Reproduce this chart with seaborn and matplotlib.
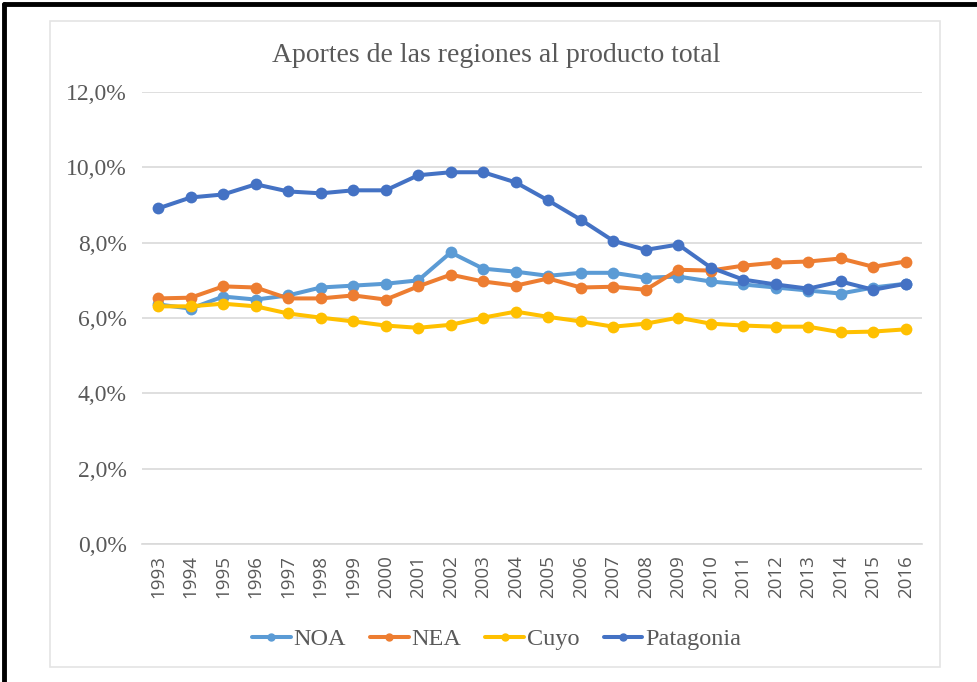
import numpy as np
import pandas as pd
import seaborn as sns
import matplotlib.pyplot as plt
from matplotlib.lines import Line2D
from matplotlib.patches import Rectangle
from matplotlib.ticker import FuncFormatter

years = [str(y) for y in range(1993, 2017)]
noa = [6.36, 6.25, 6.57, 6.49, 6.60, 6.81, 6.86, 6.91, 7.00, 7.74, 7.31, 7.23,
       7.12, 7.20, 7.20, 7.07, 7.10, 6.97, 6.89, 6.81, 6.73, 6.65, 6.81, 6.91]
nea = [6.52, 6.54, 6.84, 6.81, 6.52, 6.52, 6.60, 6.49, 6.84, 7.15, 6.97, 6.86,
       7.05, 6.81, 6.83, 6.75, 7.28, 7.26, 7.39, 7.47, 7.50, 7.58, 7.36, 7.50]
cuyo = [6.31, 6.31, 6.38, 6.31, 6.12, 6.01, 5.91, 5.80, 5.74, 5.82, 6.01, 6.17,
        6.03, 5.91, 5.77, 5.85, 6.01, 5.85, 5.80, 5.77, 5.77, 5.62, 5.64, 5.70]
patagonia = [8.91, 9.20, 9.28, 9.55, 9.36, 9.31, 9.39, 9.39, 9.79, 9.87, 9.87, 9.60,
             9.12, 8.61, 8.05, 7.81, 7.95, 7.34, 7.02, 6.89, 6.78, 6.97, 6.75, 6.91]

regiones = ["NOA", "NEA", "Cuyo", "Patagonia"]
colores = ["#5B9BD5", "#ED7D31", "#FFC000", "#4472C4"]

df = pd.DataFrame({"anio": years * 4,
                   "valor": noa + nea + cuyo + patagonia,
                   "region": sum([[r] * len(years) for r in regiones], [])})

sns.set_style("white")
serif = ["Liberation Serif", "DejaVu Serif"]
fig = plt.figure(figsize=(9.77, 6.82), dpi=100)
ax = fig.add_axes([0.1453, 0.2023, 0.7984, 0.6628])

sns.lineplot(data=df, x="anio", y="valor", hue="region", hue_order=regiones,
             palette=colores, marker="o", markersize=8.5, markeredgewidth=0,
             linewidth=2.9, sort=False, legend=False, ax=ax)

ax.set_xlim(-0.5, len(years) - 0.5)
ax.set_ylim(0, 12)
ax.set_yticks(np.arange(0, 12.1, 2))
ax.yaxis.set_major_formatter(FuncFormatter(lambda v, p: f"{v:.1f}%".replace(".", ",")))
ax.grid(axis="y", color="#d9d9d9", linewidth=1.2)
ax.set_axisbelow(True)
for s in ["left", "right", "top"]:
    ax.spines[s].set_visible(False)
ax.spines["bottom"].set_color("#d9d9d9")
ax.spines["bottom"].set_linewidth(1.2)
ax.tick_params(length=0)
ax.tick_params(axis="y", pad=11)
ax.tick_params(axis="x", pad=8)
ax.set_xlabel("")
ax.set_ylabel("")
for lab in ax.get_yticklabels():
    lab.set_family(serif)
    lab.set_fontsize(17)
    lab.set_color("#595959")
for lab in ax.get_xticklabels():
    lab.set_family(["Open Sans", "DejaVu Sans"])
    lab.set_fontsize(13.5)
    lab.set_color("#595959")
    lab.set_rotation(90)

fig.text(0.508, 0.919, "Aportes de las regiones al producto total", ha="center", va="center",
         family=serif, fontsize=20, color="#595959")

handles = [Line2D([], [], color=c, linewidth=2.9, marker="o", markersize=5) for c in colores]
fig.legend(handles, regiones, loc="center", bbox_to_anchor=(0.508, 0.063), ncol=4,
           frameon=False, prop={"family": serif, "size": 17.5}, handlelength=1.6,
           handletextpad=0.1, columnspacing=1.0, labelcolor="#595959")

# chart area box and outer frame
fig.add_artist(Rectangle((50 / 977, 1 - 667 / 682), 890 / 977, 646 / 682,
                         transform=fig.transFigure, fill=False, edgecolor="#e4e4e4", linewidth=1.2))
fig.add_artist(Line2D([4 / 977, 4 / 977], [0, 1 - 4 / 682], transform=fig.transFigure,
                      color="black", linewidth=3.5))
fig.add_artist(Line2D([4 / 977, 1], [1 - 4 / 682, 1 - 4 / 682], transform=fig.transFigure,
                      color="black", linewidth=3.5))

fig.savefig("out.png", dpi=100)
